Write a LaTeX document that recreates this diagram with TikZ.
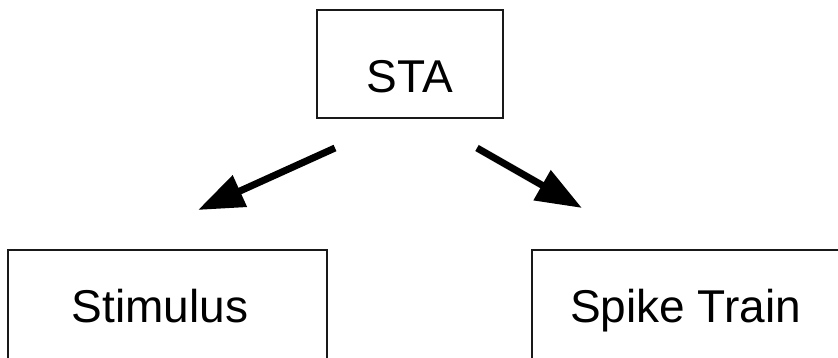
\documentclass[tikz,border=0pt]{standalone}
\usepackage{fontspec}
\setmainfont{Liberation Sans}
\usetikzlibrary{arrows.meta}
\begin{document}
\begin{tikzpicture}[x=1pt,y=1pt,
  boxframe/.style={draw=black!90, line width=2pt},
  boxlabel/.style={anchor=base, inner sep=0pt, font=\fontsize{46}{55}\selectfont},
  bigarrow/.style={draw=black, line width=7pt, -{Triangle[length=46pt,width=33pt]}}]
  \useasboundingbox (0,0) rectangle (838,-358);
  \clip (0,0) rectangle (838,-358);

  % boxes
  \draw[boxframe] (317,-10) rectangle (503,-118);
  \draw[boxframe] (8,-250) rectangle (327,-380);
  \draw[boxframe] (532,-250) rectangle (850,-380);

  % labels
  \node[boxlabel] (sta) at (410,-93) {STA};
  \node[boxlabel] (stim) at (160,-322) {Stimulus};
  \node[boxlabel] (spike) at (685.5,-322) {Spike Train};

  % arrow end points
  \coordinate (l0) at (335,-148);
  \coordinate (l1) at (198,-210);
  \coordinate (r0) at (477,-148);
  \coordinate (r1) at (582,-208);

  \draw[bigarrow] (l0) -- (l1);
  \draw[bigarrow] (r0) -- (r1);
\end{tikzpicture}
\end{document}
